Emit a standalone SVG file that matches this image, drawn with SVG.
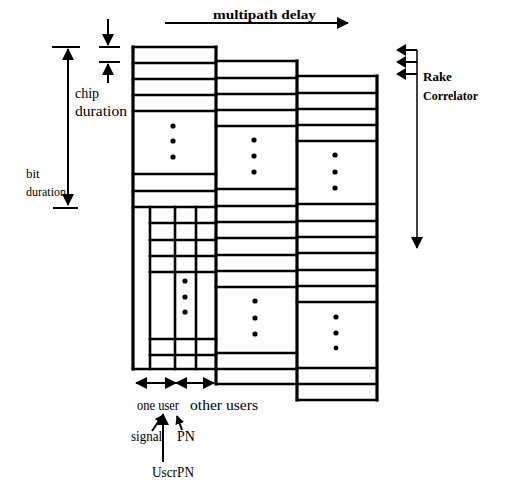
<svg xmlns="http://www.w3.org/2000/svg" width="507" height="492" viewBox="0 0 507 492">
<style>
.g line{stroke:#000;stroke-width:2.6;stroke-linecap:square}
.g .v{stroke-width:3.2}
.c line{stroke:#000;stroke-width:2}
.c .thin{stroke-width:1.5}
.t{font-family:"Liberation Serif","Times New Roman",serif;font-size:14px;fill:#000}
.s{font-size:13px}
.b{font-weight:bold;font-size:13px}
.d{fill:#000}
</style>
<defs>
<marker id="ah" viewBox="0 0 12 12" refX="11" refY="6" markerWidth="12" markerHeight="12" markerUnits="userSpaceOnUse" orient="auto">
<path d="M0,0 L12,6 L0,12 Z" fill="#000"/>
</marker>
<marker id="ahs" viewBox="0 0 10 10" refX="9" refY="5" markerWidth="9" markerHeight="9" markerUnits="userSpaceOnUse" orient="auto">
<path d="M0,0 L10,5 L0,10 Z" fill="#000"/>
</marker>
<marker id="ahr" viewBox="0 0 10 12" refX="9" refY="6" markerWidth="10" markerHeight="12" markerUnits="userSpaceOnUse" orient="auto">
<path d="M0,0 L10,6 L0,12 Z" fill="#000"/>
</marker>
</defs>
<rect width="507" height="492" fill="#fff"/>

<g id="column1" class="g">
<line class="v" x1="133" y1="47" x2="133" y2="369"/>
<line class="v" x1="216" y1="47" x2="216" y2="384"/>
<line x1="133" y1="47" x2="216" y2="47"/>
<line x1="133" y1="63" x2="216" y2="63"/>
<line x1="133" y1="79" x2="216" y2="79"/>
<line x1="133" y1="95" x2="216" y2="95"/>
<line x1="133" y1="111" x2="216" y2="111"/>
<line x1="133" y1="174" x2="216" y2="174"/>
<line x1="133" y1="191" x2="216" y2="191"/>
<line x1="133" y1="207" x2="216" y2="207"/>
<line x1="150" y1="207" x2="150" y2="369"/>
<line x1="175" y1="207" x2="175" y2="369"/>
<line x1="196" y1="207" x2="196" y2="369"/>
<line x1="150" y1="223" x2="216" y2="223"/>
<line x1="150" y1="240" x2="216" y2="240"/>
<line x1="150" y1="256" x2="216" y2="256"/>
<line x1="150" y1="272" x2="216" y2="272"/>
<line x1="150" y1="339" x2="216" y2="339"/>
<line x1="150" y1="355" x2="216" y2="355"/>
<line x1="133" y1="369" x2="216" y2="369"/>
<circle class="d" cx="173" cy="126" r="2.6"/>
<circle class="d" cx="173" cy="141" r="2.6"/>
<circle class="d" cx="173" cy="157" r="2.6"/>
<circle class="d" cx="185" cy="281" r="2.6"/>
<circle class="d" cx="185" cy="297" r="2.6"/>
<circle class="d" cx="185" cy="312" r="2.6"/>
</g>

<g id="column2" class="g">
<line class="v" x1="297" y1="61" x2="297" y2="400"/>
<line x1="216" y1="61" x2="297" y2="61"/>
<line x1="216" y1="78" x2="297" y2="78"/>
<line x1="216" y1="94" x2="297" y2="94"/>
<line x1="216" y1="110" x2="297" y2="110"/>
<line x1="216" y1="126" x2="297" y2="126"/>
<line x1="216" y1="189" x2="297" y2="189"/>
<line x1="216" y1="206" x2="297" y2="206"/>
<line x1="216" y1="222" x2="297" y2="222"/>
<line x1="216" y1="238" x2="297" y2="238"/>
<line x1="216" y1="255" x2="297" y2="255"/>
<line x1="216" y1="271" x2="297" y2="271"/>
<line x1="216" y1="287" x2="297" y2="287"/>
<line x1="216" y1="353" x2="297" y2="353"/>
<line x1="216" y1="369" x2="297" y2="369"/>
<line x1="216" y1="384" x2="297" y2="384"/>
<circle class="d" cx="254" cy="140" r="2.6"/>
<circle class="d" cx="254" cy="156" r="2.6"/>
<circle class="d" cx="254" cy="172" r="2.6"/>
<circle class="d" cx="255" cy="301" r="2.6"/>
<circle class="d" cx="255" cy="318" r="2.6"/>
<circle class="d" cx="255" cy="334" r="2.6"/>
</g>

<g id="column3" class="g">
<line class="v" x1="377" y1="76" x2="377" y2="400"/>
<line x1="297" y1="76" x2="377" y2="76"/>
<line x1="297" y1="93" x2="377" y2="93"/>
<line x1="297" y1="109" x2="377" y2="109"/>
<line x1="297" y1="125" x2="377" y2="125"/>
<line x1="297" y1="141" x2="377" y2="141"/>
<line x1="297" y1="204" x2="377" y2="204"/>
<line x1="297" y1="221" x2="377" y2="221"/>
<line x1="297" y1="237" x2="377" y2="237"/>
<line x1="297" y1="253" x2="377" y2="253"/>
<line x1="297" y1="270" x2="377" y2="270"/>
<line x1="297" y1="286" x2="377" y2="286"/>
<line x1="297" y1="302" x2="377" y2="302"/>
<line x1="297" y1="368" x2="377" y2="368"/>
<line x1="297" y1="384" x2="377" y2="384"/>
<line x1="297" y1="400" x2="377" y2="400"/>
<circle class="d" cx="335" cy="155" r="2.6"/>
<circle class="d" cx="335" cy="172" r="2.6"/>
<circle class="d" cx="335" cy="188" r="2.6"/>
<circle class="d" cx="336" cy="317" r="2.6"/>
<circle class="d" cx="336" cy="333" r="2.6"/>
<circle class="d" cx="336" cy="348" r="2.4"/>
</g>

<g id="connectors" class="c">
<line x1="165" y1="23" x2="348" y2="23" marker-end="url(#ah)"/>
<line x1="108" y1="19" x2="108" y2="45" marker-end="url(#ah)"/>
<line x1="99" y1="47" x2="120" y2="47"/>
<line x1="99" y1="62" x2="120" y2="62"/>
<line x1="108" y1="83" x2="108" y2="64" marker-end="url(#ah)"/>
<line x1="52" y1="47" x2="80" y2="47"/>
<line x1="53" y1="208" x2="78" y2="208"/>
<line x1="68" y1="128" x2="68" y2="49" marker-end="url(#ah)"/>
<line x1="68" y1="128" x2="68" y2="205" marker-end="url(#ah)"/>
<line class="thin" x1="417" y1="50" x2="417" y2="248" marker-end="url(#ah)"/>
<line x1="417" y1="50" x2="397" y2="50" marker-end="url(#ahr)"/>
<line x1="417" y1="62" x2="397" y2="62" marker-end="url(#ahr)"/>
<line x1="417" y1="74" x2="397" y2="74" marker-end="url(#ahr)"/>
<line x1="156" y1="383" x2="136" y2="383" marker-end="url(#ah)"/>
<line x1="156" y1="383" x2="176" y2="383" marker-end="url(#ah)"/>
<line x1="195" y1="383" x2="176" y2="383" marker-end="url(#ah)"/>
<line x1="195" y1="383" x2="214" y2="383" marker-end="url(#ah)"/>
<line x1="152" y1="431" x2="163" y2="415" marker-end="url(#ahs)"/>
<line x1="163" y1="462" x2="163" y2="414" marker-end="url(#ah)"/>
<line x1="182" y1="430" x2="177" y2="416" marker-end="url(#ahs)"/>
</g>

<g id="labels">
<text class="t b" x="213" y="19" textLength="103" lengthAdjust="spacingAndGlyphs">multipath delay</text>
<text class="t" x="75" y="98">chip</text>
<text class="t" x="75" y="116" textLength="52" lengthAdjust="spacingAndGlyphs">duration</text>
<text class="t s" x="26" y="178">bit</text>
<text class="t s" x="26" y="196" textLength="40" lengthAdjust="spacingAndGlyphs">duration</text>
<text class="t b" x="423" y="81">Rake</text>
<text class="t b" x="423" y="100" textLength="55" lengthAdjust="spacingAndGlyphs">Correlator</text>
<text class="t" x="137" y="410" textLength="42" lengthAdjust="spacingAndGlyphs">one user</text>
<text class="t" x="190" y="410" textLength="68" lengthAdjust="spacingAndGlyphs">other users</text>
<text class="t" x="131" y="441" textLength="31" lengthAdjust="spacingAndGlyphs">signal</text>
<text class="t" x="177" y="441">PN</text>
<text class="t" x="152" y="477" textLength="42" lengthAdjust="spacingAndGlyphs">UscrPN</text>
</g>
</svg>
